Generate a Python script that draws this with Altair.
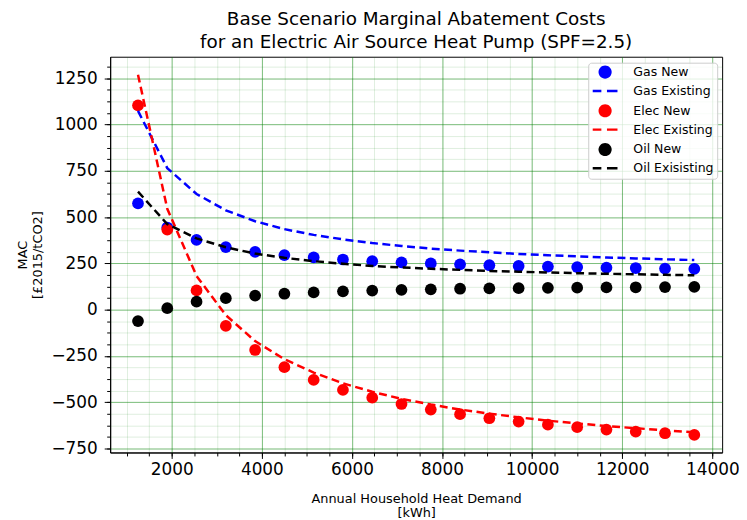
import altair as alt
import pandas as pd

# ---- data ----
demand = [1250, 1900, 2550, 3200, 3850, 4500, 5150, 5800, 6450, 7100,
          7750, 8400, 9050, 9700, 10350, 11000, 11650, 12300, 12950, 13600]

gas_new = [574, 444, 377, 338, 312, 295, 282, 271, 262, 256,
           250, 245, 240, 236, 233, 230, 227, 225, 222, 220]
gas_existing = [1074, 765, 625, 537, 478, 435, 404, 380, 360, 344,
                330, 319, 310, 301, 294, 288, 282, 277, 272, 268]
elec_new = [1104, 433, 104, -88, -218, -311, -380, -434, -476, -510,
            -540, -565, -587, -605, -622, -635, -648, -659, -668, -677]
elec_existing = [1270, 545, 182, -30, -170, -268, -340, -398, -444, -482,
                 -513, -540, -562, -582, -600, -615, -629, -641, -652, -663]
oil_new = [-62, 8, 43, 62, 76, 86, 93, 99, 103, 107,
           110, 113, 115, 116, 118, 119, 120, 121, 122, 123]
oil_existing = [638, 462, 385, 337, 303, 280, 262, 248, 236, 228,
                221, 215, 209, 205, 201, 197, 194, 191, 188, 186]

series_names = ["Gas New", "Gas Existing", "Elec New", "Elec Existing",
                "Oil New", "Oil Exisisting"]
series_colors = ["#0000ff", "#0000ff", "#ff0000", "#ff0000", "#000000", "#000000"]

x_major = [2000, 4000, 6000, 8000, 10000, 12000, 14000]
x_minor = list(range(1000, 14001, 500))
y_major = [-750, -500, -250, 0, 250, 500, 750, 1000, 1250]
y_minor = [-750 + 62.5 * i for i in range(34)]

title_lines = ["Base Scenario Marginal Abatement Costs",
               "for an Electric Air Source Heat Pump (SPF=2.5)"]
x_title = ["Annual Household Heat Demand", "[kWh]"]
y_title = ["MAC", "[£2015/tCO2]"]

# ---- tables ----
color_of = dict(zip(series_names, series_colors))


def frame(name, values):
    return pd.DataFrame({"demand": demand, "mac": values, "series": name,
                         "col": color_of[name]})


points_df = pd.concat([frame("Gas New", gas_new), frame("Elec New", elec_new),
                       frame("Oil New", oil_new)], ignore_index=True)
lines_df = pd.concat([frame("Gas Existing", gas_existing),
                      frame("Elec Existing", elec_existing),
                      frame("Oil Exisisting", oil_existing)], ignore_index=True)
all_df = pd.concat([points_df, lines_df], ignore_index=True)

xscale = alt.Scale(domain=[632, 14218], nice=False, zero=False)
yscale = alt.Scale(domain=[-772, 1367], nice=False, zero=False)
cscale = alt.Scale(domain=series_names, range=series_colors)

# legend symbols (unit = half of a 13px symbol box)
circle_path = "M-1.02,0A1.02,1.02,0,1,0,1.02,0A1.02,1.02,0,1,0,-1.02,0Z"
dash_path = "M-1.92,-0.19H-0.58V0.19H-1.92Z M0.29,-0.19H1.92V0.19H0.29Z"
shape_scale = alt.Scale(domain=series_names,
                        range=[circle_path, dash_path, circle_path, dash_path,
                               circle_path, dash_path])

green = "#008000"

# minor grid layer
minor = alt.Chart(points_df).mark_point(opacity=0).encode(
    x=alt.X("demand:Q", scale=xscale,
            axis=alt.Axis(values=x_minor, grid=True, gridColor=green, gridOpacity=0.13,
                          labels=False, ticks=True, tickSize=3.5, tickColor="black",
                          domain=False, title=None, orient="bottom")),
    y=alt.Y("mac:Q", scale=yscale,
            axis=alt.Axis(values=y_minor, grid=True, gridColor=green, gridOpacity=0.13,
                          labels=False, ticks=True, tickSize=3.5, tickColor="black",
                          domain=False, title=None, orient="left")),
)

dots = alt.Chart(points_df).mark_circle(size=140, opacity=1).encode(
    x=alt.X("demand:Q", scale=xscale,
            axis=alt.Axis(values=x_major, grid=True, gridColor=green, gridOpacity=0.45,
                          tickSize=6, tickColor="black", domainColor="black",
                          labelFontSize=17, labelColor="black", labelPadding=3,
                          format="d", title=x_title, titleFontSize=13,
                          titleFontWeight="normal", titleColor="black",
                          titleLineHeight=15, titlePadding=15, orient="bottom")),
    y=alt.Y("mac:Q", scale=yscale,
            axis=alt.Axis(values=y_major, grid=True, gridColor=green, gridOpacity=0.45,
                          tickSize=6, tickColor="black", domainColor="black",
                          labelFontSize=17, labelColor="black", labelPadding=7,
                          format="d", title=y_title, titleFontSize=13,
                          titleFontWeight="normal", titleColor="black",
                          titleLineHeight=14.5, titlePadding=7, orient="left")),
    color=alt.Color("col:N", scale=None),
)

lines = alt.Chart(lines_df).mark_line(strokeDash=[8, 4.5], strokeWidth=2.5).encode(
    x=alt.X("demand:Q", scale=xscale, axis=None),
    y=alt.Y("mac:Q", scale=yscale, axis=None),
    color=alt.Color("col:N", scale=None),
    detail="series:N",
)

leg = alt.Legend(title=None, orient="none", legendX=482, legendY=6,
                 fillColor="rgba(255,255,255,0.8)", strokeColor="#cccccc",
                 cornerRadius=3, padding=3, symbolSize=169, symbolStrokeWidth=0,
                 symbolOpacity=1, symbolOffset=7.5, labelFontSize=12.6,
                 labelColor="black", labelOffset=22, rowPadding=5)

legend_layer = alt.Chart(all_df).mark_point(filled=True, opacity=0).encode(
    x=alt.X("demand:Q", scale=xscale, axis=None),
    y=alt.Y("mac:Q", scale=yscale, axis=None),
    color=alt.Color("series:N", scale=cscale, legend=leg),
    shape=alt.Shape("series:N", scale=shape_scale, legend=leg),
)

chart = alt.layer(minor, dots, lines, legend_layer).resolve_axis(
    x="independent", y="independent"
).properties(
    width=617, height=399,
    autosize=alt.AutoSizeParams(type="none"),
    padding={"left": 103, "top": 47, "right": 17, "bottom": 72},
    title=alt.TitleParams(title_lines, fontSize=18.5, fontWeight="normal",
                          color="black", anchor="middle", lineHeight=23, offset=5),
).configure(font="DejaVu Sans").configure_view(stroke="black", strokeWidth=1)

chart.save("out.html", embed_options={"renderer": "svg", "actions": False})
